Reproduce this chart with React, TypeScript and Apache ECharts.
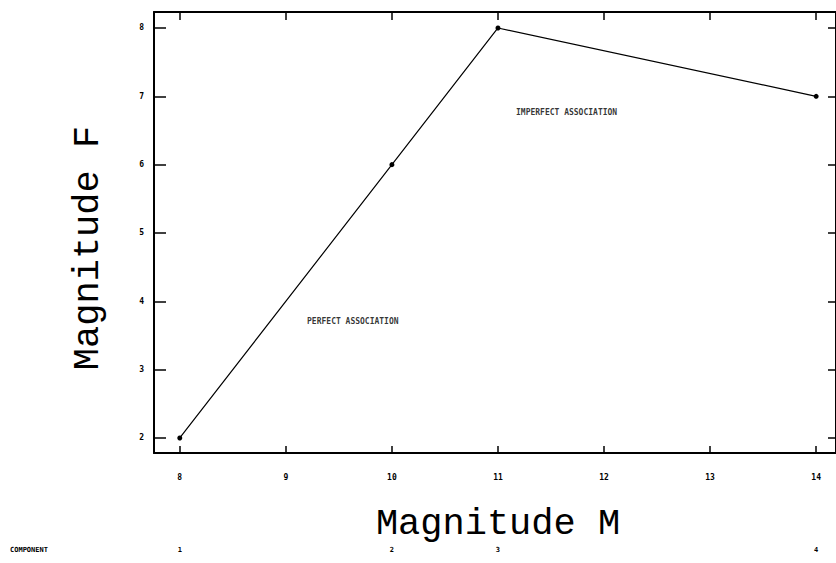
import React, { useEffect, useRef } from "react";
import * as echarts from "echarts";

const X_VALUES = [8, 10, 11, 14];
const Y_VALUES = [2, 6, 8, 7];
const COMPONENT_IDS = ["1", "2", "3", "4"];
const X_TICKS = [8, 9, 10, 11, 12, 13, 14];
const Y_TICKS = [2, 3, 4, 5, 6, 7, 8];
const X_RANGE = [7.757, 14.187];
const Y_RANGE = [1.78, 8.234];
const ANNOT_X = [11.17, 9.2];
const ANNOT_Y = [6.76, 3.71];
const ANNOT_TEXT = ["IMPERFECT ASSOCIATION", "PERFECT ASSOCIATION"];
const X_TITLE = "Magnitude M";
const Y_TITLE = "Magnitude F";
const ROW_TITLE = "COMPONENT";

const smallFont = {
  fontFamily: "DejaVu Sans Mono",
  fontWeight: "bold" as const,
  fontSize: 8,
  color: "#000",
};
const titleFont = "37px 'Liberation Mono'";

export default function App() {
  const ref = useRef<HTMLDivElement>(null);
  useEffect(() => {
    if (!ref.current) return;
    const chart = echarts.init(ref.current, undefined, { renderer: "svg" });
    const axisLine = { show: true, lineStyle: { color: "#000", width: 2 } };
    chart.setOption({
      animation: false,
      backgroundColor: "#fff",
      grid: { left: 154, top: 12, width: 688, height: 441 },
      xAxis: [
        {
          type: "value",
          position: "bottom",
          min: X_RANGE[0],
          max: X_RANGE[1],
          axisLine,
          splitLine: { show: false },
          axisTick: {
            inside: true,
            length: 7,
            customValues: X_TICKS,
            lineStyle: { color: "#000", width: 1.5 },
          },
          axisLabel: {
            customValues: X_TICKS,
            margin: 20,
            ...smallFont,
          },
        },
        {
          type: "value",
          position: "top",
          min: X_RANGE[0],
          max: X_RANGE[1],
          axisLine,
          splitLine: { show: false },
          axisTick: {
            inside: true,
            length: 8,
            customValues: X_TICKS,
            lineStyle: { color: "#000", width: 1.5 },
          },
          axisLabel: { show: false },
        },
        {
          type: "value",
          position: "bottom",
          offset: 93,
          min: X_RANGE[0],
          max: X_RANGE[1],
          axisLine: { show: false },
          axisTick: { show: false },
          splitLine: { show: false },
          axisLabel: {
            customValues: X_VALUES,
            margin: 0,
            ...smallFont,
            fontSize: 7,
            formatter: (v: number) => {
              const i = X_VALUES.indexOf(v);
              return i >= 0 ? COMPONENT_IDS[i] : "";
            },
          },
        },
      ],
      yAxis: [
        {
          type: "value",
          position: "left",
          min: Y_RANGE[0],
          max: Y_RANGE[1],
          axisLine,
          splitLine: { show: false },
          axisTick: {
            inside: true,
            length: 12,
            customValues: Y_TICKS,
            lineStyle: { color: "#000", width: 1.5 },
          },
          axisLabel: {
            customValues: Y_TICKS,
            margin: 10,
            ...smallFont,
          },
        },
        {
          type: "value",
          position: "right",
          min: Y_RANGE[0],
          max: Y_RANGE[1],
          axisLine,
          splitLine: { show: false },
          axisTick: {
            inside: true,
            length: 8,
            customValues: Y_TICKS,
            lineStyle: { color: "#000", width: 1.5 },
          },
          axisLabel: { show: false },
        },
      ],
      graphic: [
        {
          type: "text",
          x: 498,
          y: 524,
          style: {
            text: X_TITLE,
            font: titleFont,
            fill: "#000",
            textAlign: "center",
            textVerticalAlign: "middle",
          },
        },
        {
          type: "text",
          x: 88,
          y: 248,
          rotation: Math.PI / 2,
          style: {
            text: Y_TITLE,
            font: titleFont,
            fill: "#000",
            textAlign: "center",
            textVerticalAlign: "middle",
          },
        },
        {
          type: "text",
          x: 10,
          y: 550,
          style: {
            text: ROW_TITLE,
            font: "bold 7px 'DejaVu Sans Mono'",
            fill: "#000",
            textAlign: "left",
            textVerticalAlign: "middle",
          },
        },
      ],
      series: [
        {
          type: "line",
          xAxisIndex: 0,
          yAxisIndex: 0,
          data: X_VALUES.map((x, i) => [x, Y_VALUES[i]]),
          symbol: "circle",
          symbolSize: 5,
          lineStyle: { color: "#000", width: 1.2 },
          itemStyle: { color: "#000" },
        },
        {
          type: "scatter",
          xAxisIndex: 0,
          yAxisIndex: 0,
          symbolSize: 0,
          data: ANNOT_X.map((x, i) => [x, ANNOT_Y[i], ANNOT_TEXT[i]]),
          label: {
            show: true,
            position: "right",
            distance: 0,
            ...smallFont,
            formatter: (p: any) => p.value[2],
          },
        },
      ],
    });
    return () => chart.dispose();
  }, []);
  return (
    <div
      ref={ref}
      style={{ position: "fixed", left: 0, top: 0, width: 836, height: 563 }}
    />
  );
}
